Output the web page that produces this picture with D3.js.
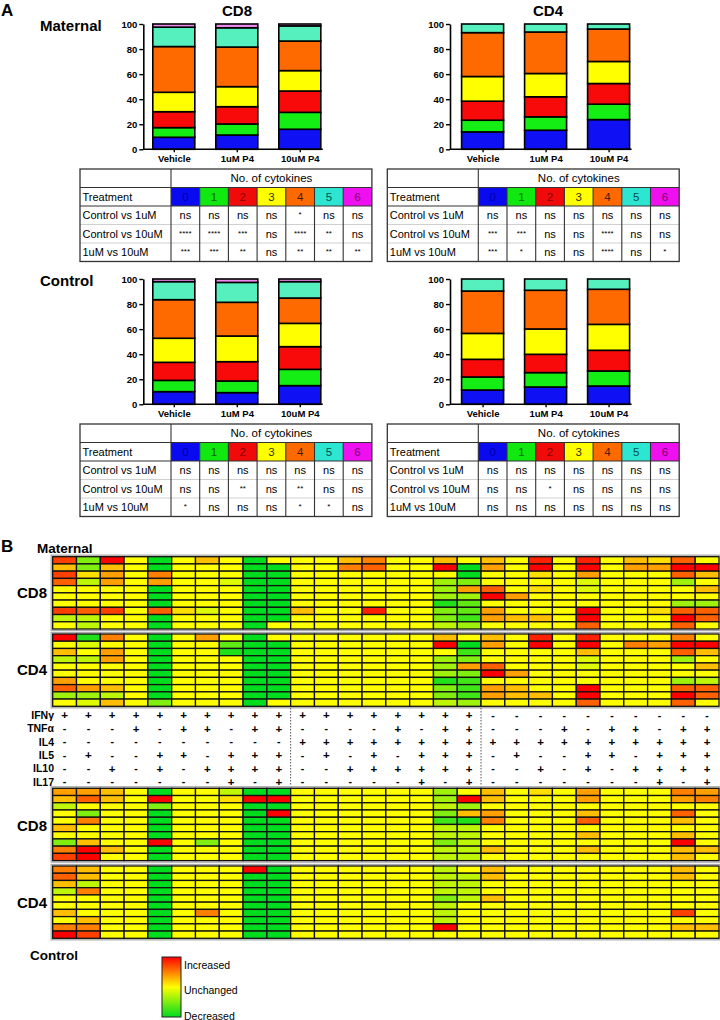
<!DOCTYPE html>
<html><head><meta charset="utf-8">
<script src="https://cdn.jsdelivr.net/npm/d3@7"></script>
<style>body{margin:0;background:#fff} svg{font-family:"Liberation Sans",Arial,sans-serif}</style>
</head><body><svg id="fig" width="720" height="1020"></svg>
<script>
// ---------------- DATA ----------------
const treatments = ["Vehicle", "1uM P4", "10uM P4"];
const cytokineCounts = ["0", "1", "2", "3", "4", "5", "6"];
const yTicks = [0, 20, 40, 60, 80, 100];
// % of cells producing n cytokines (n = 0..6), per treatment
const maternalCD8 = [[9.6, 7.7, 12.7, 15.5, 36.5, 15.5, 2.5], [11.4, 8.8, 13.8, 16.0, 31.6, 15.4, 3.0], [16.0, 13.5, 17.0, 16.3, 23.6, 12.1, 1.5]];
const maternalCD4 = [[13.9, 9.3, 15.2, 19.7, 35.0, 6.9, 0], [15.2, 10.7, 16.0, 18.6, 33.1, 6.4, 0], [23.7, 12.3, 16.5, 17.6, 25.9, 4.0, 0]];
const controlCD8 = [[10.1, 9.0, 14.4, 19.2, 30.8, 14.4, 2.1], [9.3, 9.3, 15.4, 20.5, 26.9, 15.9, 2.7], [14.9, 13.0, 18.1, 18.6, 20.2, 13.1, 2.1]];
const controlCD4 = [[11.4, 10.4, 14.1, 20.7, 33.8, 9.6, 0], [13.8, 11.5, 14.6, 20.2, 30.9, 9.0, 0], [14.6, 12.0, 16.5, 20.7, 28.0, 8.2, 0]];

const comparisons = ["Control vs 1uM", "Control vs 10uM", "1uM vs 10uM"];
const statsMaternalCD8 = [["ns","ns","ns","ns","*","ns","ns"], ["****","****","***","ns","****","**","ns"], ["***","***","**","ns","**","**","**"]];
const statsMaternalCD4 = [["ns","ns","ns","ns","ns","ns","ns"], ["***","***","ns","ns","****","ns","ns"], ["***","*","ns","ns","****","ns","*"]];
const statsControlCD8 = [["ns","ns","ns","ns","ns","ns","ns"], ["ns","ns","**","ns","**","ns","ns"], ["*","ns","ns","ns","*","*","ns"]];
const statsControlCD4 = [["ns","ns","ns","ns","ns","ns","ns"], ["ns","ns","*","ns","ns","ns","ns"], ["ns","ns","ns","ns","ns","ns","ns"]];

// Heatmap: cytokine combinations (28 columns)
const cytokines = ["IFNγ", "TNFα", "IL4", "IL5", "IL10", "IL17"];
const combos = [
  "++++++++++++++++++----------",
  "---+-++-++----+-++---+-++-++",
  "----------++++++++++++++++++",
  "-+--++-+++-+-+-+++-+--++-+++",
  "--+-+-++++--++++++--+-+-++++",
  "-------+-+-----+-+-------+-+"
];
// change level: -4 decreased (green) .. 0 unchanged (yellow) .. +4 increased (red)
const heatMaternalCD8 = [
  [3,-2,4,0,-4,0,1,0,-4,0,0,0,1,2, 0,0,1,0,1,0,3.5,0,3.5,0,1,0.5,2.5,0],
  [1,-2,1,0,-4,0,0,0,-4,-4,0,0,2,2.5, 0,0,4,-4,1.5,0,4,0,4,0,1.5,1.5,4,4],
  [3,0.5,1.5,0,2,0,0,0,-4,-4,0,0,0,0, 0,0,0,-4,0,0,0.5,0,1.5,0,0,0,2.5,1],
  [2.5,-1,1.5,0,1.5,0,0,-0.5,-4,-4,0,0,0,0, 0,0,-1.5,-2,0,0,0,0,-0.5,0,0,0,-1.5,0],
  [0,0,0,0,-4,0,0,0,-4,-4,0,0,0,0, 0,0,-1.5,1.5,2.5,0,0.5,0,-0.5,0,0,0,0,1],
  [0,0,0,0,-4,0,0,0,-4,-4,0,0,0,0, 0,0,-1.5,-1.5,4,1.5,0,0,0,0,0,0,0,0],
  [0,0,0,0,-4,0,0,0,-4,-4,0,0,0,0, 0,0,-3.5,-2.5,0,0,0,0,0,0,0,0,-1.5,-1.5],
  [3,2.5,3,0,2.5,0.5,-0.5,0,-4,-4,1,0,0,3.5, 0,0,-2,-2.5,1.5,0,0,0,4,0,0,0.5,2.5,2.5],
  [-1,-1,0,0,-4,0,0,0,-4,-4,0,0,0,0, 0,0,-2,-3,1.5,1,1,0,4,0,0,0,4,2.5],
  [0,-1,0,0,-4,0,0,0,-4,0,0,0,0,0, 0,0,-1,-1.5,0,0,0,0,2.5,0,0,0,2.5,0]
];
const heatMaternalCD4 = [
  [4,-3.5,2,0,-4,0,1.5,0,-4,0,0,0,0,0, 0,0,1,0,1,0,3.5,0,3.5,0,0,0,2,0],
  [0,-0.5,0,0,-4,0,0,-2.5,-4,-4,0,0,0,0, 0,0,4,-4,1.5,0,4,0,4,0,2,1.5,4,4],
  [1,0,1.5,0,-4,0,0,-3.5,-4,-4,0,0,0,0, 0,0,0,-3,0,0,0,0,1,0,0,0,2.5,1],
  [-1,-1,1.5,0,-4,0,0,0,-4,-4,0,0,0,0, 0,0,-1.5,-2,0,0,0,0,-0.5,0,0,0,-1.5,0],
  [0,0,0,0,-4,0,0,0,-4,-4,0,0,0,0, 0,0,-1.5,1.5,2.5,0,0,0,-0.5,0,0,0,0,1],
  [0,0,0,0,-4,0,0,0,-4,-4,0,0,0,0, 0,0,-1.5,-2,4,1.5,0,0,0,0,0,0,0,0],
  [1.5,0,0,0,-4,0,0,0,-4,-4,0,0,0,0, 0,0,-3.5,-3,0,0,0,0,0,0,0,0,-1.5,-1],
  [2.5,1.5,1,0,-4,0,0,0,-4,-4,0,0,0,0, 0,0,-2,-3,1.5,1,0,0,4,0,0,0,2.5,2.5],
  [-1.5,-1.5,-1,0,-4,0,0,0,-4,-4,0,0,0,0, 0,0,-2,-3,1.5,1,1,0,4,0,0,0,4,2.5],
  [0,-0.5,1,0,-2,0,0,0,-4,0,0,0,0,0, 0,0,-1,-1.5,0,0,0,0,2.5,0,0,0,2.5,0]
];
const heatControlCD8 = [
  [1.5,1.5,1,0,-4,0,0,-1,-4,-4,0,0,0,0, 0,0,-1.5,0,1,0,0.5,0,1.5,0,0,0,2,1.5],
  [1,2.5,1,0,4,0,0,0.5,4,4,0,0,0,0, 0,0,-1.5,4,1,0,0,0,1.5,0,0,0,1.5,2],
  [-1,0,0,0,-2,0,0,0,-4,-4,0,0,0,0, 0,0,-1,-1.5,0,0,0,0,0,0,0,0,0,0],
  [0,-2,0,0,-4,0,0,0,-4,4,0,0,0,0, 0,0,-2,1,1.5,0,0,0,1,0,0,0,2.5,0],
  [0,2,0,0,-4,0,0,0,-4,-4,0,0,0,0, 0,0,-3,-3.5,2,0,0,0,2.5,0,0,0,1,0],
  [1,0,0,0,-4,0,0,0,-4,-4,0,0,0,0, 0,0,-1,-1,0,0,0,0,0,0,0,0,0,0],
  [0,0,0,0,-4,0,0,0,-4,-4,0,0,0,0, 0,0,-1,-1,0,0,0,0,1,0,0,0,1,0],
  [-2,1,0,0,4,0,-2,0,-4,-4,0,0,0,0, 0,0,-2,-1,0,0,0,0,0,0,0,0,4,0],
  [2,4,1,0,-4,0,0,0,-4,-4,0,0,0,0, 0,0,-1,-1,1,0,0,0,1,0,0,0,1,1],
  [3,4,0,0,-4,0,0,0,-4,-4,0,0,0,0, 0,0,-1,-1,0,0,0,0,0,0,0,0,1,0]
];
const heatControlCD4 = [
  [2,1,0,0,-4,0,0,0,4,-4,0,0,0,0, 0,0,-1,0,1,0,0,0,0,0,0,0,1,0],
  [2.5,1,0,0,-4,0,0,0,-4,-4,0,0,0,0, 0,0,-1,-1,1,0,0,0,0,0,0,0,1,0],
  [1,-1,0,0,-4,0,0,0,-4,-4,0,0,0,0, 0,0,-1,-1,0,0,0,0,0,0,0,0,0,0],
  [-1,2,0,0,-4,0,0,0,-4,-4,0,0,0,0, 0,0,-1,-1,0,0,0,0,0,0,0,0,0,0],
  [0,0,0,0,-4,0,0,0,-4,-4,0,0,0,0, 0,0,-2,-1,1,0,0,0,0,0,0,0,0,0],
  [0,0,0,0,-4,0,0,0,-4,-4,0,0,0,0, 0,0,-1,0,0,0,0,0,0,0,0,0,0,0],
  [1,0,0,0,-4,0,2,0,-4,-4,0,0,0,0, 0,0,-1,0,0,0,0,0,0,0,0,0,3,0],
  [0,1,0,0,-4,0,0,0,-4,-4,0,0,0,0, 0,0,-1,0,0,0,0,0,0,0,0,0,0,0],
  [2,2,0,0,-4,0,0,0,-4,-4,0,0,0,0, 0,0,4,0,0,0,0,0,0,0,0,0,1,1],
  [4,3,0,0,-4,0,0,0,-4,-4,0,0,0,0, 0,0,0,0,0,0,0,0,0,0,0,0,0,0]
];
const legendLabels = ["Increased", "Unchanged", "Decreased"];

// ---------------- DRAWING ----------------
const svg = d3.select("#fig");
const segColors = ["#1010f4", "#14ee14", "#f80a0a", "#ffff00", "#ff6a00", "#55f0bd", "#f08cf0"];
const hdrColors = ["#0a0af0", "#10e810", "#f00a0a", "#ffff00", "#ff6a00", "#2ce6d2", "#ee10ee"];
const hdrText = ["#0000a8", "#006600", "#880000", "#333300", "#402000", "#005050", "#700070"];

function txt(x, y, s, size, weight, anchor) {
  return svg.append("text").attr("x", x).attr("y", y).attr("font-size", size)
    .attr("font-weight", weight || "normal").attr("text-anchor", anchor || "start").text(s);
}

function stackedBars(data, axisX, firstC, yZero, yHundred) {
  const g = svg.append("g");
  const y = d3.scaleLinear().domain([0, 100]).range([yZero, yHundred]);
  const x = d3.scalePoint().domain(treatments).range([axisX + firstC, axisX + firstC + 126]);
  const bw = 42;
  const rows = data.map((d, i) => ({ t: treatments[i], v: d }));
  const series = d3.stack().keys(d3.range(7)).value((d, k) => d.v[k])(rows);
  series.forEach((s, i) => {
    g.append("g").selectAll("rect").data(s.filter(d => d[1] - d[0] > 0)).join("rect")
      .attr("x", d => x(d.data.t) - bw / 2).attr("width", bw)
      .attr("y", d => y(d[1])).attr("height", d => y(d[0]) - y(d[1]))
      .attr("fill", segColors[i]).attr("stroke", "#000").attr("stroke-width", 1.6);
  });
  const ay = g.append("g").attr("transform", `translate(${axisX},0)`)
    .call(d3.axisLeft(y).tickValues(yTicks).tickSize(4).tickSizeOuter(0).tickPadding(2));
  ay.select(".domain").attr("stroke-width", 1.6);
  ay.selectAll(".tick line").attr("stroke-width", 1.4);
  ay.selectAll("text").attr("font-size", 9.5).attr("font-weight", "bold").attr("font-family", "Liberation Sans, Arial, sans-serif");
  const ax = g.append("g").attr("transform", `translate(0,${yZero})`)
    .call(d3.axisBottom(x).tickSize(3).tickSizeOuter(0).tickPadding(3));
  ax.select(".domain").remove();
  ax.selectAll(".tick line").attr("stroke-width", 1.4);
  ax.selectAll("text").attr("font-size", 9.5).attr("font-weight", "bold").attr("font-family", "Liberation Sans, Arial, sans-serif");
  g.append("line").attr("x1", axisX).attr("x2", x(treatments[2]) + bw / 2 + 2)
    .attr("y1", yZero).attr("y2", yZero).attr("stroke", "#000").attr("stroke-width", 1.6);
}

function statTable(stats, x0, y0) {
  const labelW = 91, colW = 28.7, rowH = 18.5, W = labelW + 7 * colW, H = 5 * rowH;
  const g = svg.append("g").attr("font-size", 11);
  const cx = i => x0 + labelW + i * colW;
  cytokineCounts.forEach((c, i) => {
    g.append("rect").attr("x", cx(i)).attr("y", y0 + rowH).attr("width", colW).attr("height", rowH).attr("fill", hdrColors[i]);
    g.append("text").attr("x", cx(i) + colW / 2).attr("y", y0 + rowH * 1.5 + 4).attr("text-anchor", "middle").attr("font-size", 11.5).attr("fill", hdrText[i]).text(c);
  });
  [3, 4].forEach(r => g.append("line").attr("x1", x0).attr("x2", x0 + W).attr("y1", y0 + r * rowH).attr("y2", y0 + r * rowH).attr("stroke", "#d0d0d0").attr("stroke-width", 1));
  [1, 2].forEach(r => g.append("line").attr("x1", x0).attr("x2", x0 + W).attr("y1", y0 + r * rowH).attr("y2", y0 + r * rowH).attr("stroke", "#333").attr("stroke-width", 1.1));
  g.append("line").attr("x1", cx(0)).attr("x2", cx(0)).attr("y1", y0).attr("y2", y0 + H).attr("stroke", "#333").attr("stroke-width", 1.1);
  d3.range(1, 7).forEach(i => g.append("line").attr("x1", cx(i)).attr("x2", cx(i)).attr("y1", y0 + rowH).attr("y2", y0 + H).attr("stroke", "#333").attr("stroke-width", 1.1));
  g.append("rect").attr("x", x0).attr("y", y0).attr("width", W).attr("height", H).attr("fill", "none").attr("stroke", "#333").attr("stroke-width", 1.3);
  g.append("text").attr("x", cx(3.5)).attr("y", y0 + rowH / 2 + 4).attr("text-anchor", "middle").attr("font-size", 11.5).text("No. of cytokines");
  g.append("text").attr("x", x0 + 2.5).attr("y", y0 + rowH * 1.5 + 4).text("Treatment");
  comparisons.forEach((c, r) => {
    const yy = y0 + (r + 2.5) * rowH + 4;
    g.append("text").attr("x", x0 + 2.5).attr("y", yy).text(c);
    stats[r].forEach((s, i) => {
      const star = s !== "ns";
      g.append("text").attr("x", cx(i) + colW / 2).attr("y", star ? yy - 2 : yy)
        .attr("text-anchor", "middle").attr("font-size", star ? 8 : 11).text(s);
    });
  });
}

// Panel A
txt(1, 16, "A", 17, "bold");
txt(237, 16, "CD8", 15, "bold", "middle");
txt(548, 16, "CD4", 15, "bold", "middle");
txt(40, 31, "Maternal", 15, "bold");
txt(40, 286, "Control", 15, "bold");
stackedBars(maternalCD8, 143.3, 30.5, 149.3, 24);
stackedBars(maternalCD4, 450, 32.6, 149.3, 24);
stackedBars(controlCD8, 143.3, 30.5, 404.3, 279);
stackedBars(controlCD4, 450, 32.6, 404.3, 279);
statTable(statsMaternalCD8, 80, 169);
statTable(statsMaternalCD4, 387.3, 169);
statTable(statsControlCD8, 80, 424);
statTable(statsControlCD4, 387.3, 424);

// Panel B
const heatColor = d3.scaleLinear().domain([-4, 0, 4]).range(["#00dc1e", "#ffff00", "#ff0000"]).clamp(true);
const hx = d3.scaleBand().domain(d3.range(28)).range([52.7, 719]);
function heatBlock(rows, y0) {
  const hy = d3.scaleBand().domain(d3.range(rows.length)).range([y0, y0 + 72.3]);
  const g = svg.append("g");
  g.append("rect").attr("x", 51.2).attr("y", y0 - 1.5).attr("width", 669.3).attr("height", 75.3)
    .attr("fill", "none").attr("stroke", "#a8a8a8").attr("stroke-width", 1.3);
  rows.forEach((row, r) => {
    g.append("g").selectAll("rect").data(row).join("rect")
      .attr("x", (d, c) => hx(c)).attr("y", hy(r)).attr("width", hx.bandwidth()).attr("height", hy.bandwidth())
      .attr("fill", d => heatColor(d)).attr("stroke", "#111").attr("stroke-width", 1.3);
  });
}
txt(1, 552, "B", 17, "bold");
txt(37, 553, "Maternal", 13.5, "bold");
heatBlock(heatMaternalCD8, 556.7);
heatBlock(heatMaternalCD4, 634);
heatBlock(heatControlCD8, 788.3);
heatBlock(heatControlCD4, 866);
txt(47, 598, "CD8", 15, "bold", "end");
txt(47, 675, "CD4", 15, "bold", "end");
txt(47, 831, "CD8", 15, "bold", "end");
txt(47, 908, "CD4", 15, "bold", "end");
txt(30, 960, "Control", 13.5, "bold");

// combination sign table
const signY = d3.scalePoint().domain(cytokines).range([715.3, 781.8]);
cytokines.forEach((c, k) => {
  txt(54, signY(c) + 3.8, c, 10.5, "bold", "end");
  combos[k].split("").forEach((s, i) => {
    txt(hx(i) + hx.bandwidth() / 2, signY(c) + (s === "+" ? 4 : 3.3), s, s === "+" ? 11.5 : 10.5, "bold", "middle");
  });
});
[10, 18].forEach(i => svg.append("line").attr("x1", hx(i)).attr("x2", hx(i)).attr("y1", 708).attr("y2", 786)
  .attr("stroke", "#555").attr("stroke-width", 1).attr("stroke-dasharray", "1.5,1.5"));

// legend
const defs = svg.append("defs");
const lg = defs.append("linearGradient").attr("id", "lg").attr("x1", 0).attr("x2", 0).attr("y1", 0).attr("y2", 1);
[[0, 4], [0.5, 0], [1, -4]].forEach(([o, v]) => lg.append("stop").attr("offset", o).attr("stop-color", heatColor(v)));
svg.append("rect").attr("x", 162).attr("y", 957).attr("width", 19).attr("height", 60).attr("fill", "url(#lg)").attr("stroke", "#222").attr("stroke-width", 1);
const legY = d3.scalePoint().domain(legendLabels).range([965, 1016]);
legendLabels.forEach(l => txt(184, legY(l) + 3.5, l, 10.5));
</script></body></html>
